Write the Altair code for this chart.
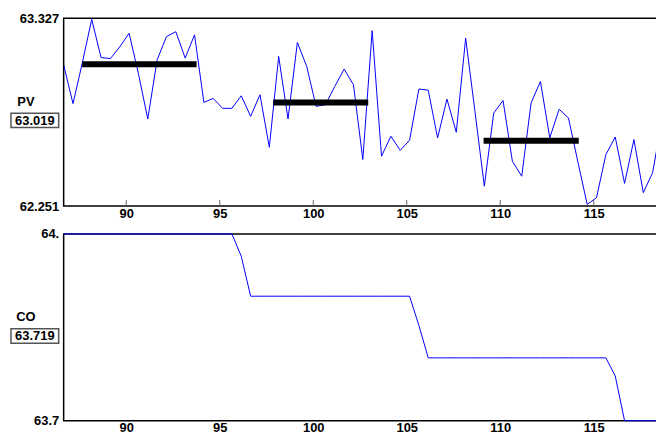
import altair as alt
import pandas as pd

FONT = "Liberation Sans"

# sample times (minutes)
times = [86.65, 87.15, 87.65, 88.15, 88.65, 89.15, 89.65, 90.15, 90.65, 91.15,
         91.65, 92.15, 92.65, 93.15, 93.65, 94.15, 94.65, 95.15, 95.65, 96.15,
         96.65, 97.15, 97.65, 98.15, 98.65, 99.15, 99.65, 100.15, 100.65, 101.15,
         101.65, 102.15, 102.65, 103.15, 103.65, 104.15, 104.65, 105.15, 105.65, 106.15,
         106.65, 107.15, 107.65, 108.15, 108.65, 109.15, 109.65, 110.15, 110.65, 111.15,
         111.65, 112.15, 112.65, 113.15, 113.65, 114.15, 114.65, 115.15, 115.65, 116.15,
         116.65, 117.15, 117.65, 118.15, 118.65]

# process variable
pv = [63.060, 62.838, 63.072, 63.321, 63.102, 63.096, 63.163, 63.241, 63.009, 62.750,
      63.089, 63.222, 63.250, 63.099, 63.232, 62.845, 62.868, 62.811, 62.811, 62.883,
      62.765, 62.889, 62.588, 63.108, 62.750, 63.188, 63.051, 62.822, 62.832, 62.936,
      63.036, 62.946, 62.518, 63.256, 62.537, 62.651, 62.571, 62.628, 62.922, 62.915,
      62.641, 62.864, 62.674, 63.213, 62.792, 62.365, 62.784, 62.856, 62.508, 62.422,
      62.842, 62.965, 62.642, 62.806, 62.756, 62.506, 62.261, 62.299, 62.546, 62.647,
      62.381, 62.632, 62.328, 62.442, 62.746]

# controller output
co = [64.0, 64.0, 64.0, 64.0, 64.0, 64.0, 64.0, 64.0, 64.0, 64.0,
      64.0, 64.0, 64.0, 64.0, 64.0, 64.0, 64.0, 64.0, 64.0, 63.964,
      63.900, 63.900, 63.900, 63.900, 63.900, 63.900, 63.900, 63.900, 63.900, 63.900,
      63.900, 63.900, 63.900, 63.900, 63.900, 63.900, 63.900, 63.900, 63.853, 63.801,
      63.801, 63.801, 63.801, 63.801, 63.801, 63.801, 63.801, 63.801, 63.801, 63.801,
      63.801, 63.801, 63.801, 63.801, 63.801, 63.801, 63.801, 63.801, 63.801, 63.772,
      63.700, 63.700, 63.700, 63.700, 63.700]

# average bars on PV
bar_start = [87.64, 97.86, 109.11]
bar_end = [93.76, 102.94, 114.20]
bar_level = [63.064, 62.845, 62.625]

x_ticks = [90, 95, 100, 105, 110, 115]
x_domain = [86.65, 118.65]
pv_range = [62.251, 63.327]
co_range = [63.7, 64.0]
pv_current = "63.019"
co_current = "63.719"

W = 602
H1 = 189
H2 = 188

xscale = alt.Scale(domain=x_domain, nice=False, zero=False)


def xaxis():
    return alt.Axis(values=x_ticks, title=None, grid=False, domain=False, ticks=False,
                    labelFont=FONT, labelFontSize=13, labelFontWeight="bold",
                    labelColor="black", labelPadding=1, labelFlush=False)


def yaxis(vals, expr=None):
    kw = dict(values=vals, title=None, grid=False, domain=False, ticks=False,
              labelFont=FONT, labelFontSize=13, labelFontWeight="bold",
              labelColor="black", labelPadding=5, labelFlush=False, labelBaseline="middle")
    if expr:
        kw["labelExpr"] = expr
    else:
        kw["format"] = ".3f"
    return alt.Axis(**kw)


def side_labels(name, value, h):
    one = pd.DataFrame({"name": [name], "value": [value]})
    box = alt.Chart(one).mark_rect(fill="white", stroke="#555555", strokeWidth=1.5).encode(
        x=alt.value(-53), x2=alt.value(-5), y=alt.value(95.5), y2=alt.value(110))
    txt = alt.Chart(one).mark_text(font=FONT, fontSize=13, fontWeight="bold", color="black",
                                   align="center", baseline="middle").encode(
        x=alt.value(-29), y=alt.value(103), text="value:N")
    nm = alt.Chart(one).mark_text(font=FONT, fontSize=13, fontWeight="bold", color="black",
                                  align="center", baseline="middle").encode(
        x=alt.value(-38), y=alt.value(84), text="name:N")
    return [box, txt, nm]


df_pv = pd.DataFrame({"t": times, "pv": pv})
df_co = pd.DataFrame({"t": times, "co": co})
df_bars = pd.DataFrame({"start": bar_start, "end": bar_end, "level": bar_level})
df_ticks = pd.DataFrame({"t": x_ticks})

pv_line = alt.Chart(df_pv).mark_line(color="#0000FF", strokeWidth=1, clip=True).encode(
    x=alt.X("t:Q", scale=xscale, axis=xaxis()),
    y=alt.Y("pv:Q", scale=alt.Scale(domain=pv_range, nice=False, zero=False), axis=yaxis(pv_range)),
)
pv_bars = alt.Chart(df_bars).mark_rule(color="black", strokeWidth=6, strokeCap="butt").encode(
    x="start:Q", x2="end:Q", y="level:Q")
pv_ticks = alt.Chart(df_ticks).mark_rule(color="#666666", strokeWidth=1).encode(
    x="t:Q", y=alt.value(H1 - 6), y2=alt.value(H1))

top = alt.layer(pv_line, pv_bars, pv_ticks, *side_labels("PV", pv_current, H1)).properties(
    width=W, height=H1)

co_line = alt.Chart(df_co).mark_line(color="#0000FF", strokeWidth=1).encode(
    x=alt.X("t:Q", scale=xscale, axis=xaxis()),
    y=alt.Y("co:Q", scale=alt.Scale(domain=co_range, nice=False, zero=False),
            axis=yaxis(co_range, "datum.value >= 64 ? '64.' : '63.7'")),
)
bottom = alt.layer(co_line, *side_labels("CO", co_current, H2)).properties(width=W, height=H2)

chart = alt.vconcat(top, bottom, spacing=6).properties(
    padding={"left": 1, "top": 2, "right": -9, "bottom": 0},
    background="white",
).configure_view(stroke="black", strokeWidth=1.5)

chart.save("out.html", embed_options={"renderer": "svg", "actions": False})
